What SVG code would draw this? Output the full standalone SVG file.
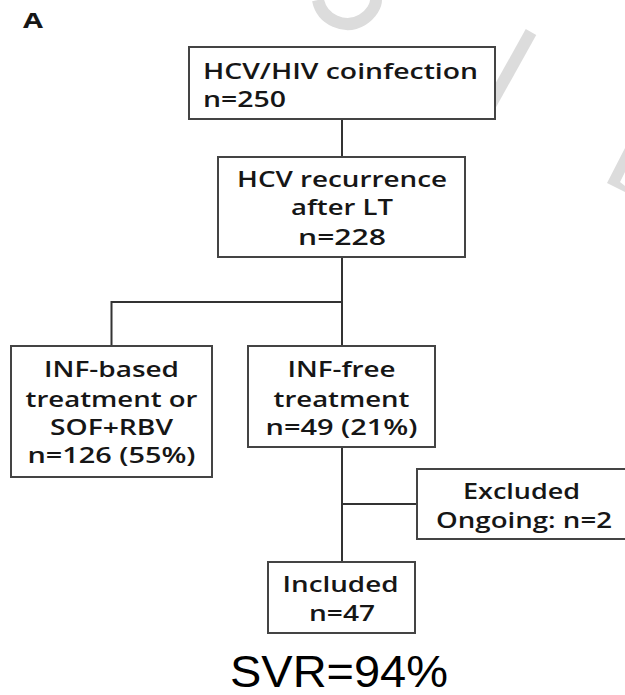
<svg xmlns="http://www.w3.org/2000/svg" width="625" height="695" viewBox="0 0 625 695">
<style>
.box{fill:#fff;stroke:#444;stroke-width:2}
.t{font-family:"Open Sans","DejaVu Sans",sans-serif;font-size:22px;font-weight:600;fill:#161616;text-anchor:middle}
.ts{text-anchor:start}
.conn{fill:none;stroke:#333;stroke-width:2}
.wm{fill:none;stroke:#dcdcdc}
</style>
<rect width="625" height="695" fill="#fff"/>
<g id="watermark">
<path class="wm" stroke-width="12" d="M318 0 C322 20 345 30 362 20 C372 14 376 5 376 0"/>
<line class="wm" stroke-width="12" x1="531" y1="32" x2="487" y2="111"/>
<polygon fill="#dcdcdc" points="625,148 607,183 625,192 625,186 620,182 625,172"/>
</g>
<text x="33" y="28" font-family="Open Sans, DejaVu Sans, sans-serif" font-size="22" font-weight="bold" fill="#161616" text-anchor="middle" textLength="20" lengthAdjust="spacingAndGlyphs">A</text>
<g id="connectors">
<line class="conn" x1="342" y1="119" x2="342" y2="157"/>
<line class="conn" x1="342" y1="257" x2="342" y2="346"/>
<polyline class="conn" points="342,302 111.5,302 111.5,346"/>
<line class="conn" x1="342" y1="447" x2="342" y2="562"/>
<line class="conn" x1="342" y1="504" x2="417" y2="504"/>
</g>
<g id="n1">
<rect class="box" x="189" y="47" width="306" height="72"/>
<text class="t ts" x="203" y="79" textLength="275" lengthAdjust="spacingAndGlyphs">HCV/HIV coinfection</text>
<text class="t ts" x="203" y="107" textLength="83" lengthAdjust="spacingAndGlyphs">n=250</text>
</g>
<g id="n2">
<rect class="box" x="218" y="157" width="247" height="100"/>
<text class="t" x="342" y="187" textLength="210" lengthAdjust="spacingAndGlyphs">HCV recurrence</text>
<text class="t" x="342" y="215" textLength="102" lengthAdjust="spacingAndGlyphs">after LT</text>
<text class="t" x="342" y="245" textLength="88" lengthAdjust="spacingAndGlyphs">n=228</text>
</g>
<g id="n3">
<rect class="box" x="11" y="346" width="201" height="131"/>
<text class="t" x="111.5" y="377" textLength="135" lengthAdjust="spacingAndGlyphs">INF-based</text>
<text class="t" x="111.5" y="407" textLength="172" lengthAdjust="spacingAndGlyphs">treatment or</text>
<text class="t" x="111.5" y="435" textLength="123" lengthAdjust="spacingAndGlyphs">SOF+RBV</text>
<text class="t" x="111.5" y="463" textLength="168" lengthAdjust="spacingAndGlyphs">n=126 (55%)</text>
</g>
<g id="n4">
<rect class="box" x="248" y="346" width="187" height="101"/>
<text class="t" x="341.5" y="377" textLength="108" lengthAdjust="spacingAndGlyphs">INF-free</text>
<text class="t" x="341.5" y="407" textLength="136" lengthAdjust="spacingAndGlyphs">treatment</text>
<text class="t" x="341.5" y="435" textLength="152" lengthAdjust="spacingAndGlyphs">n=49 (21%)</text>
</g>
<g id="n5">
<rect class="box" x="417" y="469" width="230" height="70"/>
<text class="t" x="521.5" y="499" textLength="117" lengthAdjust="spacingAndGlyphs">Excluded</text>
<text class="t" x="524" y="528" textLength="176" lengthAdjust="spacingAndGlyphs">Ongoing: n=2</text>
</g>
<g id="n6">
<rect class="box" x="268" y="562" width="147" height="71"/>
<text class="t" x="340.5" y="592" textLength="116" lengthAdjust="spacingAndGlyphs">Included</text>
<text class="t" x="342" y="621" textLength="66" lengthAdjust="spacingAndGlyphs">n=47</text>
</g>
<text x="339" y="687" font-family="Liberation Sans, Arial, sans-serif" font-size="44" fill="#000" text-anchor="middle" textLength="218" lengthAdjust="spacingAndGlyphs">SVR=94%</text>
</svg>
